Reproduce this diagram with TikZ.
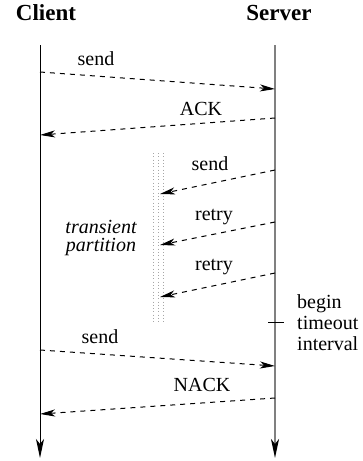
\documentclass[tikz,border=0pt]{standalone}
\usepackage{fontspec}
\setmainfont{Liberation Serif}
\usetikzlibrary{arrows.meta}
\tikzset{
  msg/.style={line width=1pt, dash pattern=on 5pt off 5pt, -{Stealth[length=15pt,width=7pt,inset=4pt]}},
  lbl/.style={font=\fontsize{20}{21}\selectfont, anchor=base, inner sep=0pt},
  head/.style={font=\fontsize{23}{24}\selectfont\bfseries, anchor=base, inner sep=0pt},
}
\begin{document}
\begin{tikzpicture}[x=1pt,y=-1pt]
  \useasboundingbox (0,0) rectangle (363,461);
  % lifelines
  \coordinate (ClientTop) at (40,45);
  \coordinate (ClientBot) at (40,458);
  \coordinate (ServerTop) at (275,45);
  \coordinate (ServerBot) at (275,458);
  \node [head] (Client) at (46,20) {Client};
  \node [head] (Server) at (279,20) {Server};
  \draw [line width=1pt, -{Stealth[length=19pt,width=8pt,inset=5pt]}] (ClientTop) -- (ClientBot);
  \draw [line width=2pt, gray, -{Stealth[length=19pt,width=8pt,inset=5pt,color=black]}] (ServerTop) -- (ServerBot);
  % transient partition
  \foreach \x in {153,158,163}
    \draw [gray!70, line width=1pt, dash pattern=on 1pt off 2.3pt] (\x,153) -- (\x,322);
  \node [lbl, font=\fontsize{20}{21}\selectfont\itshape] (Transient) at (101,233) {transient};
  \node [lbl, font=\fontsize{20}{21}\selectfont\itshape] (Partition) at (101,251) {partition};
  % messages
  \coordinate (C1) at (40,72);   \coordinate (S1) at (275,89);
  \coordinate (S2) at (275,118); \coordinate (C2) at (40,135);
  \coordinate (S3) at (275,170); \coordinate (P3) at (160,194);
  \coordinate (S4) at (275,222); \coordinate (P4) at (160,245);
  \coordinate (S5) at (275,273); \coordinate (P5) at (160,297);
  \coordinate (C6) at (40,350);  \coordinate (S6) at (275,366);
  \coordinate (S7) at (275,398); \coordinate (C7) at (40,414);
  \draw [msg] (C1) -- (S1);
  \draw [msg] (S2) -- (C2);
  \draw [msg] (S3) -- (P3);
  \draw [msg] (S4) -- (P4);
  \draw [msg] (S5) -- (P5);
  \draw [msg] (C6) -- (S6);
  \draw [msg] (S7) -- (C7);
  \node [lbl] (Send1) at (96,65) {send};
  \node [lbl] (Ack) at (201,115) {ACK};
  \node [lbl] (Send2) at (210,170) {send};
  \node [lbl] (Retry1) at (214,220) {retry};
  \node [lbl] (Retry2) at (214,270) {retry};
  \node [lbl] (Send3) at (100,343) {send};
  \node [lbl] (Nack) at (202,391) {NACK};
  % timeout mark
  \coordinate (TickL) at (268,322);
  \coordinate (TickR) at (284,322);
  \draw [line width=1pt] (TickL) -- (TickR);
  \node [lbl, anchor=base west, align=left] (Timeout) at (297,350) {begin\\timeout\\interval};
\end{tikzpicture}
\end{document}
